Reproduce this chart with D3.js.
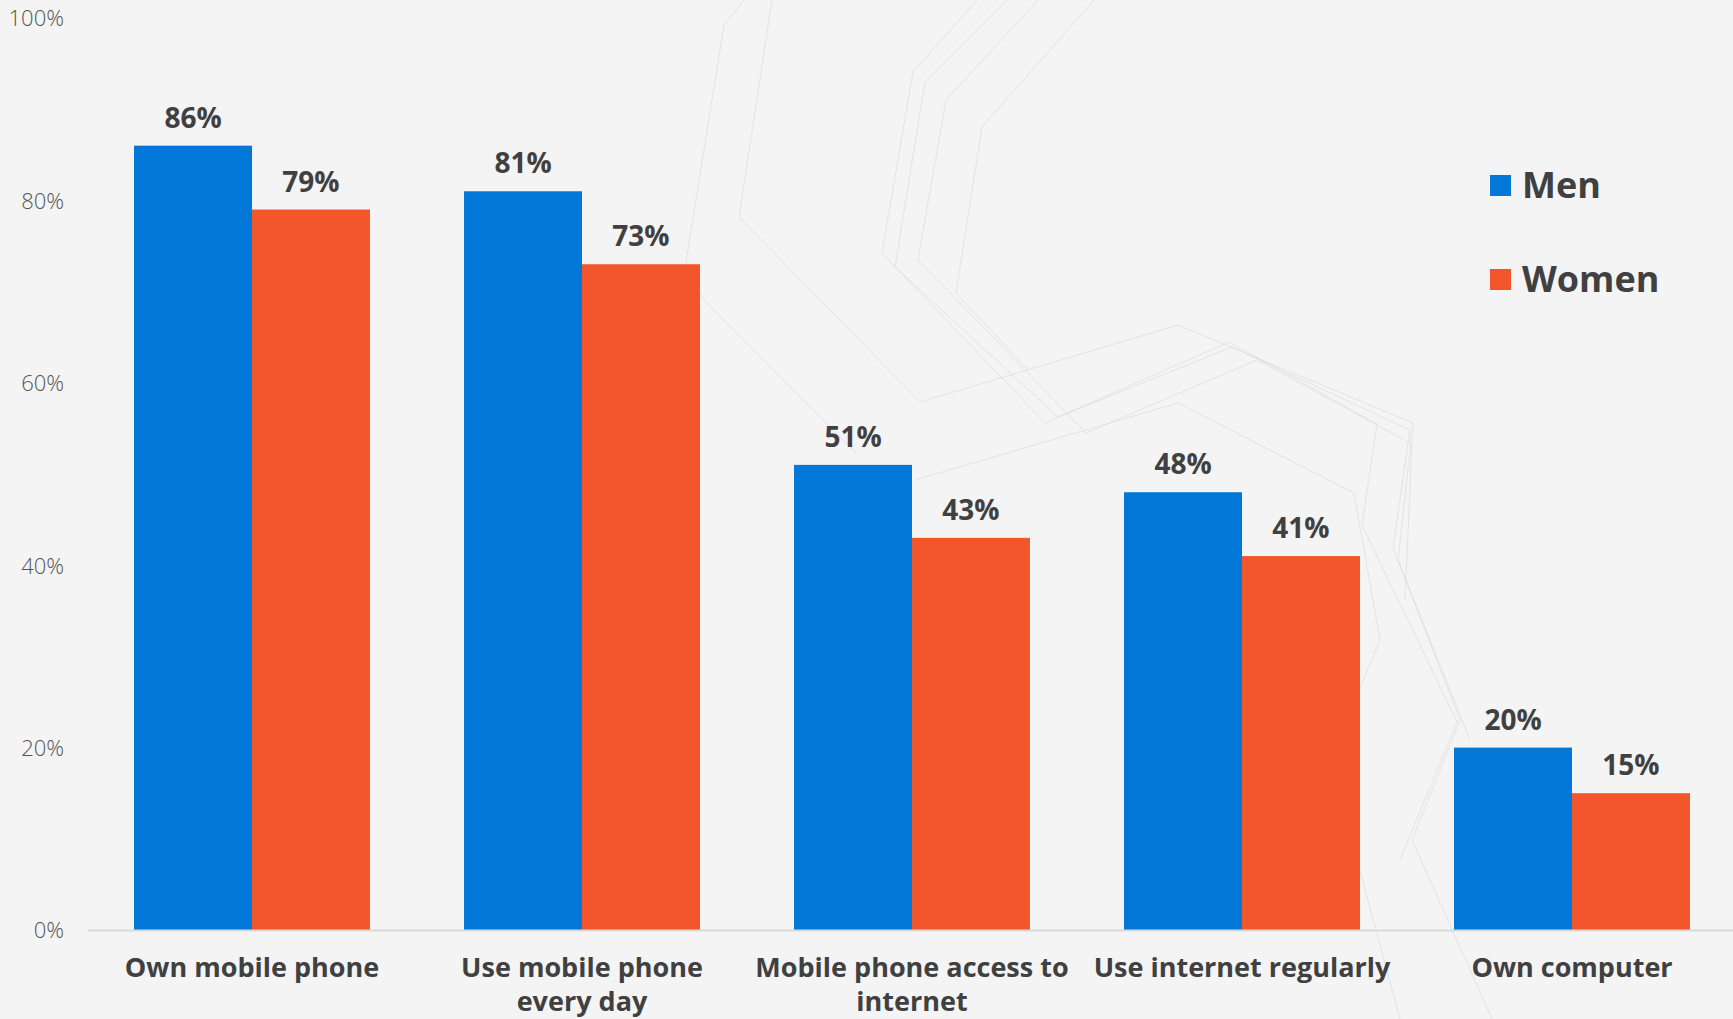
<!DOCTYPE html>
<html>
<head>
<meta charset="utf-8">
<script src="https://cdn.jsdelivr.net/npm/d3@7/dist/d3.min.js"></script>
<style>
  html, body { margin: 0; padding: 0; background: #f4f4f4; }
  svg { display: block; }
</style>
</head>
<body>
<svg id="chart" width="1733" height="1019"></svg>
<script>
// Share of adults, by gender
const categories = [
  "Own mobile phone",
  "Use mobile phone\nevery day",
  "Mobile phone access to\ninternet",
  "Use internet regularly",
  "Own computer"
];
const series = ["Men", "Women"];
const menValues = [86, 81, 51, 48, 20];
const womenValues = [79, 73, 43, 41, 15];
const yTicks = [0, 20, 40, 60, 80, 100];
const seriesColors = ["#0177d7", "#f2562a"];

// Faint ornamental strokes in the page background
const decorLines = [
  [[744, 0], [724, 25], [686, 262], [702, 298], [858, 455]],
  [[772, 0], [739, 217], [920, 402], [1178, 325], [1413, 423], [1398, 560], [1460, 720], [1412, 840], [1492, 1019]],
  [[977, 0], [913, 72], [882, 253], [1045, 423], [1229, 342], [1377, 424], [1362, 525], [1457, 722], [1400, 860]],
  [[1007, 0], [925, 82], [895, 267], [1058, 417], [1232, 347], [1410, 430], [1393, 548], [1470, 740]],
  [[1038, 0], [946, 100], [918, 260], [1086, 433], [1257, 360], [1412, 444], [1405, 600]],
  [[1094, 0], [982, 127], [956, 293], [1028, 370]],
  [[915, 480], [1178, 403], [1354, 493], [1380, 640], [1330, 760], [1400, 1019]]
];

const svg = d3.select("#chart");
const W = 1733, H = 1019;

svg.append("rect").attr("width", W).attr("height", H).attr("fill", "#f4f4f4");

svg.append("g")
  .selectAll("path")
  .data(decorLines)
  .join("path")
  .attr("d", d3.line())
  .attr("fill", "none")
  .attr("stroke", "#dcdcdc")
  .attr("stroke-width", 1)
  .attr("opacity", 0.7);

const plot = { left: 87, right: 1737, top: 18, bottom: 930 };

const x = d3.scaleBand()
  .domain(categories)
  .range([plot.left, plot.right])
  .paddingInner(0.285)
  .paddingOuter(0.1425);

const xInner = d3.scaleBand()
  .domain(series)
  .range([0, x.bandwidth()]);

const y = d3.scaleLinear()
  .domain([0, 100])
  .range([plot.bottom, plot.top]);

const color = d3.scaleOrdinal().domain(series).range(seriesColors);

const rows = categories.map((c, i) => ({
  category: c,
  values: [
    { series: "Men", value: menValues[i] },
    { series: "Women", value: womenValues[i] }
  ]
}));

// Y axis labels (no line, no ticks)
const yAxis = d3.axisLeft(y)
  .tickValues(yTicks)
  .tickFormat(d => d + "%")
  .tickSize(0)
  .tickPadding(0);

const yG = svg.append("g")
  .attr("transform", "translate(64,0)")
  .call(yAxis);
yG.select(".domain").remove();
yG.selectAll("text")
  .attr("font-family", "'Open Sans', sans-serif")
  .attr("font-size", 22)
  .attr("font-weight", 300)
  .attr("fill", "#555555")
  .attr("dy", "0.36em");

// Bars
const groups = svg.append("g")
  .selectAll("g")
  .data(rows)
  .join("g")
  .attr("transform", d => `translate(${x(d.category)},0)`);

groups.selectAll("rect")
  .data(d => d.values)
  .join("rect")
  .attr("x", d => xInner(d.series))
  .attr("y", d => y(d.value))
  .attr("width", xInner.bandwidth())
  .attr("height", d => y(0) - y(d.value))
  .attr("fill", d => color(d.series));

groups.selectAll("text.value")
  .data(d => d.values)
  .join("text")
  .attr("class", "value")
  .attr("x", d => xInner(d.series) + xInner.bandwidth() / 2)
  .attr("y", d => y(d.value) - 18)
  .attr("text-anchor", "middle")
  .attr("font-family", "'Open Sans', sans-serif")
  .attr("font-weight", 700)
  .attr("font-size", 28)
  .attr("fill", "#404040")
  .text(d => d.value + "%");

// X axis baseline and category labels
const xAxis = d3.axisBottom(x).tickSize(0).tickPadding(0);
const xG = svg.append("g")
  .attr("transform", `translate(0,${plot.bottom})`)
  .call(xAxis);
xG.select(".domain")
  .attr("stroke", "#d9d9d9")
  .attr("stroke-width", 2);
xG.selectAll(".tick text").each(function(d) {
  const t = d3.select(this);
  const lines = d.split("\n");
  t.text(null)
    .attr("y", 0)
    .attr("dy", null)
    .attr("font-family", "'Open Sans', sans-serif")
    .attr("font-weight", 700)
    .attr("font-size", 27)
    .attr("fill", "#404040");
  lines.forEach((line, i) => {
    t.append("tspan")
      .attr("x", 0)
      .attr("y", 47 + i * 34)
      .text(line);
  });
});

// Legend
const legend = svg.append("g").attr("transform", "translate(1490,175)");
const li = legend.selectAll("g")
  .data(series)
  .join("g")
  .attr("transform", (d, i) => `translate(0,${i * 94})`);
li.append("rect")
  .attr("width", 21)
  .attr("height", 21)
  .attr("fill", d => color(d));
li.append("text")
  .attr("x", 32)
  .attr("y", 23)
  .attr("font-family", "'Open Sans', sans-serif")
  .attr("font-weight", 700)
  .attr("font-size", 36)
  .attr("fill", "#404040")
  .text(d => d);
</script>
</body>
</html>
